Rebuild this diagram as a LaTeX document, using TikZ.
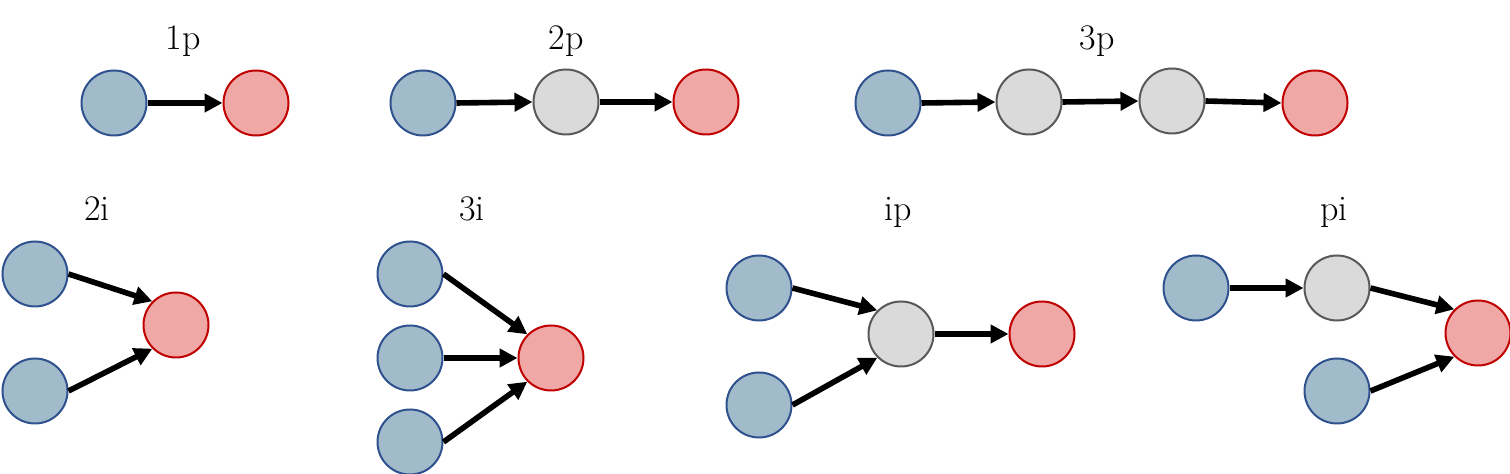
\documentclass[tikz,border=0pt]{standalone}
\usetikzlibrary{arrows.meta}
\definecolor{bfill}{HTML}{A2BBCA}
\definecolor{bdraw}{HTML}{2F528F}
\definecolor{rfill}{HTML}{EFA8A6}
\definecolor{rdraw}{HTML}{C00000}
\definecolor{gfill}{HTML}{DADADA}
\definecolor{gdraw}{HTML}{595959}
\tikzset{
  nd/.style={circle, minimum size=32.5pt, inner sep=0pt, line width=1pt},
  bnode/.style={nd, fill=bfill, draw=bdraw},
  rnode/.style={nd, fill=rfill, draw=rdraw},
  gnode/.style={nd, fill=gfill, draw=gdraw},
  lbl/.style={anchor=base, font=\fontsize{18}{20}\selectfont, inner sep=0pt},
  arr/.style={line width=2.8pt, -{Triangle[length=9pt,width=9pt]}}
}
\begin{document}
\begin{tikzpicture}[x=0.5pt,y=-0.5pt]
\useasboundingbox (0,0) rectangle (1510,474);
% 1p
\node[lbl] (l1p) at (183,50) {1p};
\node[bnode] (a1) at (114,103) {};
\node[rnode] (a2) at (256,103) {};
\draw[arr] (a1.east) -- (a2.west);
% 2p
\node[lbl] (l2p) at (566,50) {2p};
\node[bnode] (b1) at (423,103) {};
\node[gnode] (b2) at (566,102) {};
\node[rnode] (b3) at (706,102) {};
\draw[arr] (b1.east) -- (b2.west);
\draw[arr] (b2.east) -- (b3.west);
% 3p
\node[lbl] (l3p) at (1097,50) {3p};
\node[bnode] (c1) at (888,103) {};
\node[gnode] (c2) at (1029,102) {};
\node[gnode] (c3) at (1172,101) {};
\node[rnode] (c4) at (1315,103) {};
\draw[arr] (c1.east) -- (c2.west);
\draw[arr] (c2.east) -- (c3.west);
\draw[arr] (c3.east) -- (c4.west);
% 2i
\node[lbl] (l2i) at (97,221) {2i};
\node[bnode] (d1) at (35,274) {};
\node[bnode] (d2) at (35,391) {};
\node[rnode] (d3) at (176,325) {};
\draw[arr] (d1.east) -- (d3.north west);
\draw[arr] (d2.east) -- (d3.south west);
% 3i
\node[lbl] (l3i) at (472,221) {3i};
\node[bnode] (e1) at (410,274) {};
\node[bnode] (e2) at (410,358) {};
\node[bnode] (e3) at (410,442) {};
\node[rnode] (e4) at (551,358) {};
\draw[arr] (e1.east) -- (e4.north west);
\draw[arr] (e2.east) -- (e4.west);
\draw[arr] (e3.east) -- (e4.south west);
% ip
\node[lbl] (lip) at (898,221) {ip};
\node[bnode] (f1) at (759,288) {};
\node[bnode] (f2) at (759,405) {};
\node[gnode] (f3) at (901,334) {};
\node[rnode] (f4) at (1042,334) {};
\draw[arr] (f1.east) -- (f3.north west);
\draw[arr] (f2.east) -- (f3.south west);
\draw[arr] (f3.east) -- (f4.west);
% pi
\node[lbl] (lpi) at (1334,221) {pi};
\node[bnode] (g1) at (1196,288) {};
\node[gnode] (g2) at (1337,288) {};
\node[rnode] (g3) at (1478,333) {};
\node[bnode] (g4) at (1337,391) {};
\draw[arr] (g1.east) -- (g2.west);
\draw[arr] (g2.east) -- (g3.north west);
\draw[arr] (g4.east) -- (g3.south west);
\end{tikzpicture}
\end{document}
